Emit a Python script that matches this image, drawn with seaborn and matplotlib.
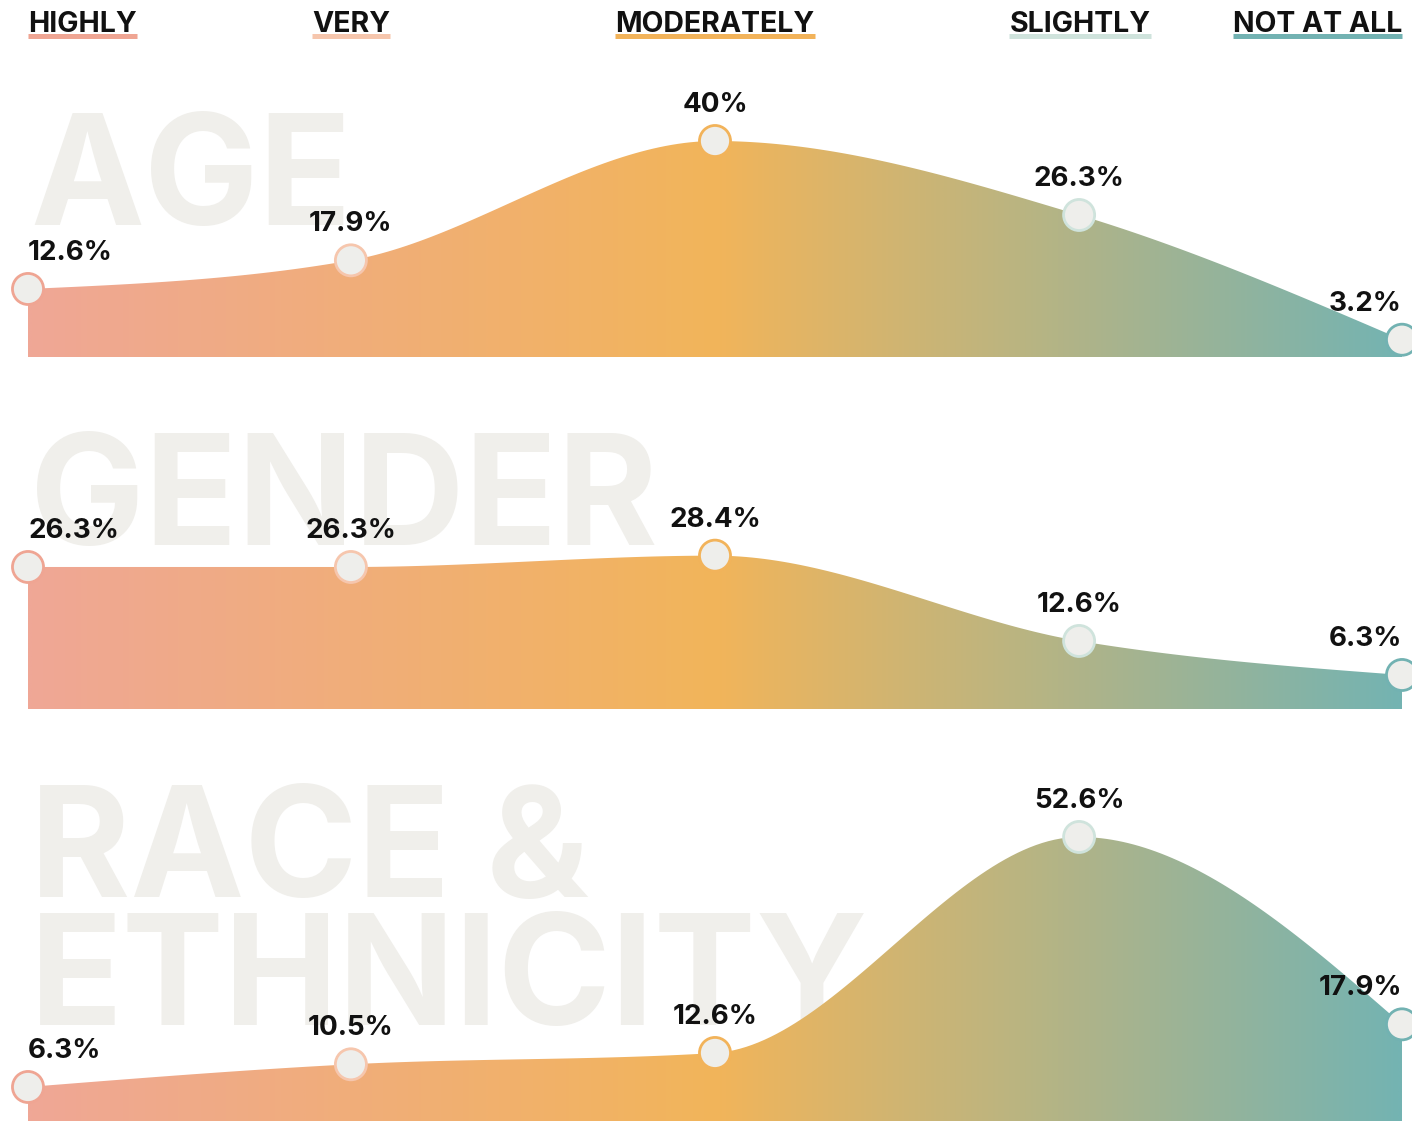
import numpy as np
import matplotlib
matplotlib.use("Agg")
import matplotlib.pyplot as plt
from matplotlib.colors import LinearSegmentedColormap
from matplotlib.patches import Polygon
from matplotlib.lines import Line2D
import seaborn as sns
import pandas as pd

# ---------------- data ----------------
categories = ["HIGHLY", "VERY", "MODERATELY", "SLIGHTLY", "NOT AT ALL"]
panel_titles = ["AGE", "GENDER", "RACE &\nETHNICITY"]
age_values = [12.6, 17.9, 40.0, 26.3, 3.2]
gender_values = [26.3, 26.3, 28.4, 12.6, 6.3]
race_values = [6.3, 10.5, 12.6, 52.6, 17.9]
age_labels = ["12.6%", "17.9%", "40%", "26.3%", "3.2%"]
gender_labels = ["26.3%", "26.3%", "28.4%", "12.6%", "6.3%"]
race_labels = ["6.3%", "10.5%", "12.6%", "52.6%", "17.9%"]

category_colors = ["#EFA593", "#F6C6AD", "#F2B35A", "#CFE3DC", "#72B2B2"]

# ---------------- layout ----------------
W, H = 1412, 1122
sns.set_theme(style="white")
plt.rcParams['font.family'] = ['Inter', 'DejaVu Sans']

fig = plt.figure(figsize=(W / 100, H / 100), dpi=100)
fig.patch.set_facecolor("white")

xpos = np.array([0.0, 0.235, 0.5, 0.765, 1.0])   # category positions along the axis
left_px, right_px = 28, 1402
px_per_unit = 5.4
baselines = [357, 709, 1121]
panel_height_px = 300

grad_cmap = LinearSegmentedColormap.from_list(
    "grad", [(0.0, "#EFA796"), (0.5, "#F2B55A"), (1.0, "#74B3B2")])


def fx(px):
    return px / W


def fy(py):
    return 1 - py / H


def monotone_x(x, y, n=60):
    """d3.curveMonotoneX style interpolation for drawing."""
    x = np.asarray(x, float)
    y = np.asarray(y, float)
    m = len(x)
    h = np.diff(x)
    s = np.diff(y) / h
    t = np.zeros(m)
    for i in range(1, m - 1):
        h0, h1 = h[i - 1], h[i]
        s0, s1 = s[i - 1], s[i]
        p = (s0 * h1 + s1 * h0) / (h0 + h1)
        t[i] = (np.sign(s0) + np.sign(s1)) * min(abs(s0), abs(s1), 0.5 * abs(p))
    t[0] = (3 * s[0] - t[1]) / 2
    t[-1] = (3 * s[-1] - t[-2]) / 2
    xs, ys = [], []
    for i in range(m - 1):
        u = np.linspace(0, 1, n)
        hh = h[i]
        h00 = 2 * u**3 - 3 * u**2 + 1
        h10 = u**3 - 2 * u**2 + u
        h01 = -2 * u**3 + 3 * u**2
        h11 = u**3 - u**2
        xs.append(x[i] + u * hh)
        ys.append(h00 * y[i] + h10 * hh * t[i] + h01 * y[i + 1] + h11 * hh * t[i + 1])
    return np.concatenate(xs), np.concatenate(ys)


# ---------------- big background titles ----------------
big_kw = dict(fontsize=110, fontweight="bold", color="#F0EFEB", ha="left",
              va="baseline", zorder=-5)
fig.text(fx(30), fy(225), "AGE", **big_kw)
fig.text(fx(30), fy(545), "GENDER", **big_kw)
fig.text(fx(30), fy(897), "RACE &", **big_kw)
fig.text(fx(30), fy(1025), "ETHNICITY", **big_kw)

# ---------------- panels ----------------
all_values = [age_values, gender_values, race_values]
all_labels = [age_labels, gender_labels, race_labels]

for vals, labs, base in zip(all_values, all_labels, baselines):
    ax = fig.add_axes([fx(left_px), fy(base), fx(right_px - left_px),
                       panel_height_px / H])
    ymax = panel_height_px / px_per_unit
    ax.set_xlim(0, 1)
    ax.set_ylim(0, ymax)
    ax.set_facecolor("none")
    ax.axis("off")

    cx, cy = monotone_x(xpos, vals)
    verts = np.vstack([np.column_stack([cx, cy]), [[1, 0], [0, 0]]])
    poly = Polygon(verts, closed=True, facecolor="none", edgecolor="none")
    ax.add_patch(poly)
    grad = np.linspace(0, 1, 512).reshape(1, -1)
    im = ax.imshow(grad, extent=[0, 1, 0, ymax], aspect="auto", cmap=grad_cmap,
                   origin="lower", zorder=2, interpolation="bilinear")
    im.set_clip_path(poly)

    df = pd.DataFrame({"x": xpos, "v": vals, "cat": categories})
    sns.scatterplot(data=df, x="x", y="v", ax=ax, s=500, color="#EEEEEB",
                    edgecolor=category_colors, linewidth=2.0, zorder=5,
                    clip_on=False, legend=False)
    ax.set_xlabel("")
    ax.set_ylabel("")
    ax.axis("off")

    for i, (xv, v, lab) in enumerate(zip(xpos, vals, labs)):
        ha = "left" if i == 0 else ("right" if i == len(vals) - 1 else "center")
        ax.annotate(lab, (xv, v), xytext=(0, 29), textcoords="offset pixels",
                    ha=ha, va="baseline", fontsize=20, fontweight="bold",
                    color="#111111", zorder=6, annotation_clip=False)

# ---------------- header legend ----------------
header_x = [28, 351, 715, 1080, 1402]
header_ha = ["left", "center", "center", "center", "right"]
head_texts = []
for cat, hx, ha in zip(categories, header_x, header_ha):
    t = fig.text(fx(hx), fy(32), cat, ha=ha, va="baseline", fontsize=20.5,
                 fontweight="bold", color="#111111", zorder=6)
    head_texts.append(t)

fig.canvas.draw()
renderer = fig.canvas.get_renderer()
for t, col in zip(head_texts, category_colors):
    bb = t.get_window_extent(renderer)
    line = Line2D([bb.x0 / W, bb.x1 / W], [fy(35.5), fy(35.5)],
                  transform=fig.transFigure, color=col, linewidth=3.6,
                  solid_capstyle="butt", zorder=5)
    fig.add_artist(line)

fig.savefig("out.png", dpi=100, facecolor="white")
